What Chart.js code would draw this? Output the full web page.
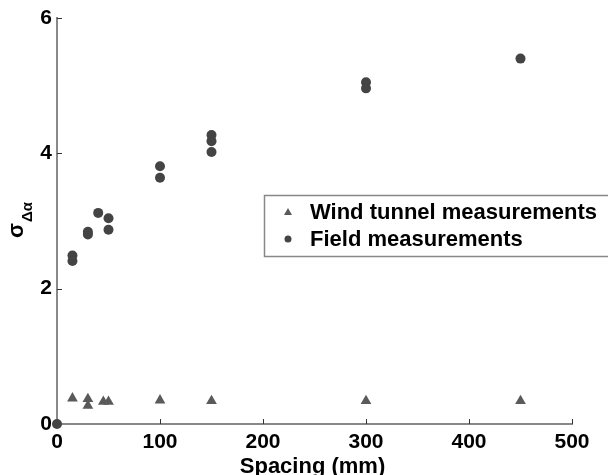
<!DOCTYPE html>
<html lang="en">
<head>
<meta charset="UTF-8">
<title>Spacing vs sigma</title>
<script src="https://cdn.jsdelivr.net/npm/chart.js"></script>
<style>
  body { margin: 0; background: #fff; }
  canvas { display: block; }
</style>
</head>
<body>
<canvas id="chart" width="608" height="475"></canvas>
<script>
// spacing (mm) and sigma values
const windSpacing = [15, 30, 30, 45, 50, 100, 150, 300, 450];
const windSigma   = [0.38, 0.37, 0.27, 0.33, 0.33, 0.35, 0.34, 0.34, 0.34];

const fieldSpacing = [0, 15, 15, 30, 30, 40, 50, 50, 100, 100, 150, 150, 150, 300, 300, 450];
const fieldSigma   = [0, 2.49, 2.41, 2.84, 2.80, 3.12, 3.04, 2.87, 3.81, 3.64, 4.27, 4.18, 4.02, 5.05, 4.96, 5.40];

const xTicks = [0, 100, 200, 300, 400, 500];
const yTicks = [0, 2, 4, 6];

const seriesNames = ['Wind tunnel measurements', 'Field measurements'];
const FONT = "'Liberation Sans', Arial, sans-serif";

function toPoints(xs, ys) {
  return xs.map((x, i) => ({ x: x, y: ys[i] }));
}

// axis ticks (pointing inward), axis titles and the legend box
const extras = {
  id: 'extras',
  afterDraw(chart) {
    const ctx = chart.ctx;
    const xs = chart.scales.x, ys = chart.scales.y;
    const area = chart.chartArea;
    ctx.save();
    ctx.strokeStyle = '#333';
    ctx.lineWidth = 1;
    xTicks.slice(1).forEach(v => {
      const px = Math.round(xs.getPixelForValue(v)) + 0.5;
      ctx.beginPath();
      ctx.moveTo(px, area.bottom);
      ctx.lineTo(px, area.bottom - 5);
      ctx.stroke();
    });
    yTicks.slice(1).forEach(v => {
      const py = Math.round(ys.getPixelForValue(v)) + 0.5;
      ctx.beginPath();
      ctx.moveTo(area.left, py);
      ctx.lineTo(area.left + 5, py);
      ctx.stroke();
    });

    // x title
    ctx.fillStyle = '#000';
    ctx.font = 'bold 22px ' + FONT;
    ctx.textAlign = 'center';
    ctx.textBaseline = 'alphabetic';
    ctx.fillText('Spacing (mm)', (area.left + area.right) / 2 - 2, 473);

    // y title: sigma with subscript delta alpha
    ctx.save();
    ctx.translate(23, 238);
    ctx.rotate(-Math.PI / 2);
    ctx.textAlign = 'left';
    ctx.font = 'bold 22px ' + FONT;
    ctx.fillText('σ', 0, 0);
    const w = ctx.measureText('σ').width;
    ctx.font = 'bold 15px ' + FONT;
    ctx.fillText('Δα', w + 1, 9);
    ctx.restore();

    // legend
    const lx = 264.5, ly = 195.5;
    ctx.fillStyle = '#fff';
    ctx.fillRect(lx, ly, 360, 61);
    ctx.strokeStyle = '#888';
    ctx.lineWidth = 1.5;
    ctx.strokeRect(lx, ly, 360, 61);
    chart.data.datasets.forEach((ds, i) => {
      const cy = 212 + i * 27;
      ctx.fillStyle = ds.backgroundColor;
      if (ds.pointStyle === 'triangle') {
        ctx.beginPath();
        ctx.moveTo(288, cy - 4);
        ctx.lineTo(292, cy + 3);
        ctx.lineTo(284, cy + 3);
        ctx.closePath();
        ctx.fill();
      } else {
        ctx.beginPath();
        ctx.arc(288, cy, 3.5, 0, Math.PI * 2);
        ctx.fill();
      }
      ctx.fillStyle = '#000';
      ctx.font = 'bold 22px ' + FONT;
      ctx.textAlign = 'left';
      ctx.textBaseline = 'middle';
      ctx.fillText(ds.label, 310, cy + 1);
    });
    ctx.restore();
  }
};

new Chart(document.getElementById('chart'), {
  type: 'scatter',
  data: {
    datasets: [
      {
        label: seriesNames[0],
        data: toPoints(windSpacing, windSigma),
        pointStyle: 'triangle',
        pointRadius: 6.2,
        backgroundColor: '#5a5a5a',
        borderColor: '#5a5a5a',
        borderWidth: 0,
        clip: false
      },
      {
        label: seriesNames[1],
        data: toPoints(fieldSpacing, fieldSigma),
        pointStyle: 'circle',
        pointRadius: 5,
        backgroundColor: '#444444',
        borderColor: '#444444',
        borderWidth: 0,
        clip: false
      }
    ]
  },
  options: {
    responsive: false,
    animation: false,
    layout: { padding: { top: 18, right: 36, left: 0, bottom: 0 } },
    plugins: {
      legend: { display: false },
      tooltip: { enabled: false }
    },
    scales: {
      x: {
        type: 'linear',
        min: 0,
        max: 500,
        afterFit: s => { s.height = 51; },
        afterBuildTicks: s => { s.ticks = xTicks.map(v => ({ value: v })); },
        grid: { display: false, drawTicks: false },
        border: { display: true, color: '#888', width: 2 },
        ticks: {
          padding: 6,
          color: '#000',
          font: { family: FONT, size: 21, weight: 'bold' }
        }
      },
      y: {
        type: 'linear',
        min: 0,
        max: 6,
        afterFit: s => { s.width = 57; },
        afterBuildTicks: s => { s.ticks = yTicks.map(v => ({ value: v })); },
        grid: { display: false, drawTicks: false },
        border: { display: true, color: '#888', width: 2 },
        ticks: {
          padding: 5,
          color: '#000',
          font: { family: FONT, size: 21, weight: 'bold' }
        }
      }
    }
  },
  plugins: [extras]
});
</script>
</body>
</html>
